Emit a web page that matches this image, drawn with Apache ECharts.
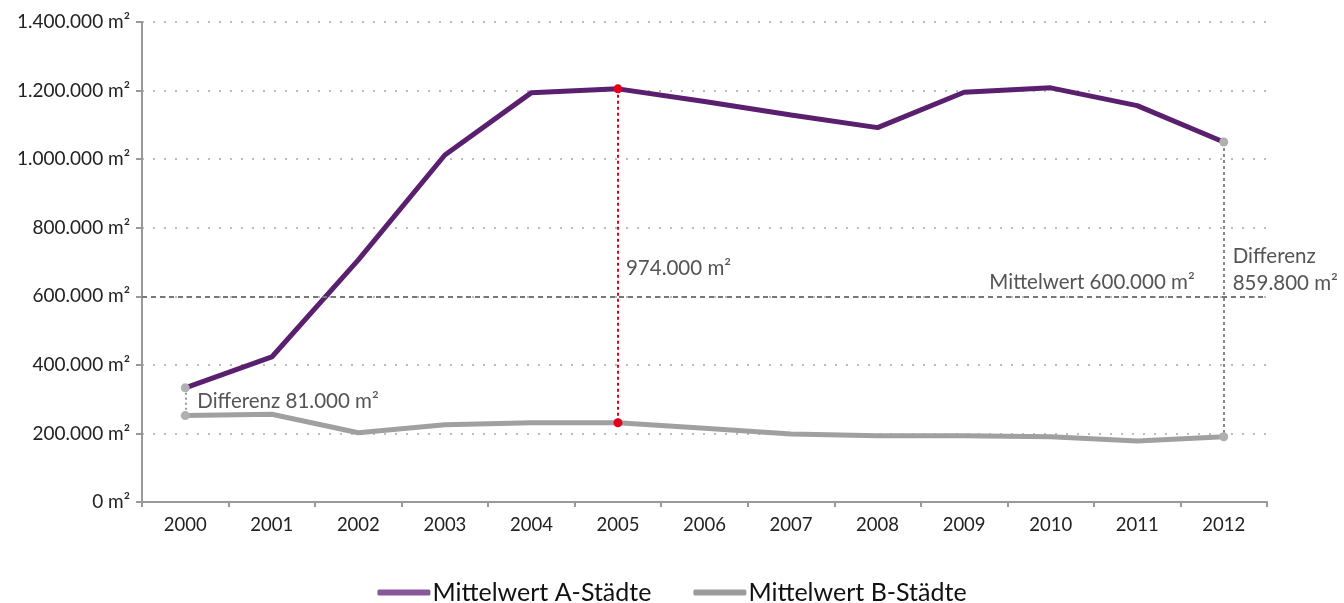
<!DOCTYPE html>
<html>
<head>
<meta charset="utf-8">
<script src="https://cdn.jsdelivr.net/npm/echarts@6/dist/echarts.min.js"></script>
<style>
  html, body { margin: 0; padding: 0; background: #fff; }
  #chart { width: 1344px; height: 603px; }
</style>
</head>
<body>
<div id="chart"></div>
<script>
// Daten
const years = ['2000', '2001', '2002', '2003', '2004', '2005', '2006', '2007', '2008', '2009', '2010', '2011', '2012'];
const cityA = [333000, 423000, 706000, 1012000, 1194000, 1205000, 1168000, 1129000, 1092000, 1195000, 1208000, 1156000, 1050000];
const cityB = [252000, 256000, 202000, 225000, 231000, 231000, 215000, 198000, 193000, 193000, 190000, 178000, 190200];
const meanValue = 600000;
const yTicks = [0, 200000, 400000, 600000, 800000, 1000000, 1200000, 1400000];

const nameA = 'Mittelwert A-Städte';
const nameB = 'Mittelwert B-Städte';

// 1234567 -> "1.234.567"
function de(n) {
  return String(Math.round(n)).replace(/\B(?=(\d{3})+(?!\d))/g, '.');
}

const last = years.length - 1;
const hi = 5; // Jahr mit Hervorhebung

function dot(idx, val, color) {
  return { coord: [idx, val], symbol: 'circle', symbolSize: 9, itemStyle: { color: color }, label: { show: false } };
}
function note(idx, val, text, pos, dist) {
  return {
    coord: [idx, val], symbol: 'circle', symbolSize: 0,
    label: { show: true, formatter: text, position: pos, distance: dist,
      fontSize: 20.5, color: '#555', fontFamily: 'Lato', lineHeight: 27 }
  };
}

const chart = echarts.init(document.getElementById('chart'));
const option = {
  animation: false,
  textStyle: { fontFamily: 'Lato' },
  grid: { left: 142, right: 77, top: 22, bottom: 101 },
  legend: {
    top: 575,
    left: 'center',
    itemWidth: 53,
    itemHeight: 6,
    itemGap: 42,
    icon: 'roundRect',
    textStyle: { fontSize: 25, color: '#111', fontFamily: 'Lato', padding: [0, 0, 0, -3] },
    data: [
      { name: nameA, itemStyle: { color: '#87579b' } },
      { name: nameB, itemStyle: { color: '#9c9c9c' } },
    ],
  },
  xAxis: {
    type: 'category',
    data: years,
    boundaryGap: true,
    axisLine: { lineStyle: { color: '#999', width: 2 } },
    axisTick: { show: true, length: 5, lineStyle: { color: '#999', width: 2 } },
    axisLabel: { fontSize: 18.5, color: '#222', margin: 14 },
    splitLine: { show: false },
  },
  yAxis: {
    type: 'value',
    min: yTicks[0],
    max: yTicks[yTicks.length - 1],
    interval: yTicks[1] - yTicks[0],
    axisLine: { show: true, lineStyle: { color: '#999', width: 2 } },
    axisTick: { show: true, length: 6, lineStyle: { color: '#999', width: 2 } },
    axisLabel: { fontSize: 19, color: '#222', margin: 12, formatter: (v) => de(v) + ' m²' },
    splitLine: { show: true, lineStyle: { color: '#bdbdbd', width: 2, type: [2, 9] } },
  },
  series: [
    {
      name: nameB,
      type: 'line',
      data: cityB,
      showSymbol: false,
      color: '#a0a0a0',
      lineStyle: { width: 5, color: '#a0a0a0' },
      z: 2,
      markLine: {
        silent: true,
        symbol: 'none',
        label: { show: false },
        lineStyle: { color: '#777', width: 2, type: [5, 4] },
        data: [
          { yAxis: meanValue },
          [
            { coord: [0, cityA[0]], lineStyle: { color: '#999', width: 2, type: [2, 3] } },
            { coord: [0, cityB[0]] },
          ],
          [
            { coord: [last, cityA[last]], lineStyle: { color: '#888', width: 2, type: [3, 3] } },
            { coord: [last, cityB[last]] },
          ],
        ],
      },
      markPoint: {
        silent: true,
        data: [
          dot(0, cityB[0], '#b0b0b0'),
          dot(last, cityB[last], '#b0b0b0'),
          note(0, (cityA[0] + cityB[0]) / 2, 'Differenz ' + de(cityA[0] - cityB[0]) + ' m²', 'right', 12),
          note(last, 640000, 'Mittelwert ' + de(meanValue) + ' m²', 'left', 29),
          note(last, 676000, 'Differenz\n' + de(cityA[last] - cityB[last]) + ' m²', 'right', 9),
        ],
      },
    },
    {
      name: nameA,
      type: 'line',
      data: cityA,
      showSymbol: false,
      color: '#5a1f6e',
      lineStyle: { width: 5, color: '#5a1f6e' },
      z: 3,
      markLine: {
        silent: true,
        symbol: 'none',
        label: { show: false },
        lineStyle: { color: '#e3001b', width: 2, type: [3, 3] },
        data: [
          [{ coord: [hi, cityA[hi]] }, { coord: [hi, cityB[hi]] }],
        ],
      },
      markPoint: {
        silent: true,
        data: [
          dot(0, cityA[0], '#b0b0b0'),
          dot(last, cityA[last], '#b0b0b0'),
          dot(hi, cityA[hi], '#e3001b'),
          dot(hi, cityB[hi], '#e3001b'),
          note(hi, 680000, de(cityA[hi] - cityB[hi]) + ' m²', 'right', 8),
        ],
      },
    },
  ],
};
chart.setOption(option);

window.addEventListener('resize', () => {
  chart.resize();
});
</script>
</body>
</html>
